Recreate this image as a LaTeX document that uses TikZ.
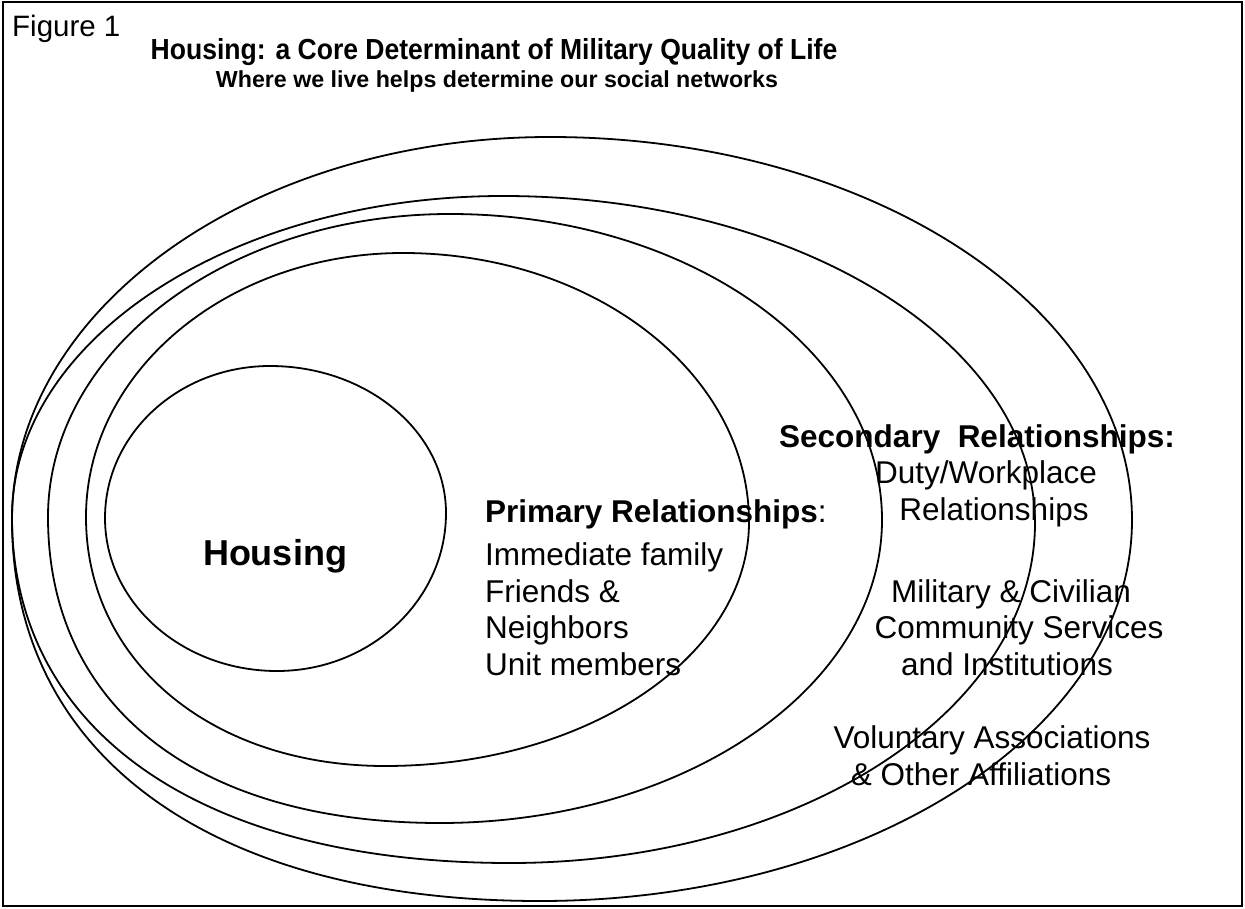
\documentclass[tikz,border=0pt]{standalone}
\usepackage{fontspec}
\setmainfont{Liberation Sans}[Ligatures=NoCommon]
\newcommand{\kTL}{0.5523}
\newcommand{\kTR}{0.5523}
\newcommand{\kBR}{0.5523}
\newcommand{\kBL}{0.5523}
% egg-shaped closed curve through left, top, right, bottom extreme points
\newcommand{\egg}[8]{%
  \draw[ring] (#1,#2) .. controls (#1,{#2-\kTL*(#2-#4)}) and ({#3-\kTL*(#3-#1)},#4) .. (#3,#4)
    .. controls ({#3+\kTR*(#5-#3)},#4) and (#5,{#6-\kTR*(#6-#4)}) .. (#5,#6)
    .. controls (#5,{#6+\kBR*(#8-#6)}) and ({#7+\kBR*(#5-#7)},#8) .. (#7,#8)
    .. controls ({#7-\kBL*(#7-#1)},#8) and (#1,{#2+\kBL*(#8-#2)}) .. (#1,#2);}
\begin{document}
\begin{tikzpicture}[x=1pt,y=-1pt,
  ring/.style={line width=1.8pt,line cap=round,line join=round},
  frame/.style={line width=1.8pt},
  body/.style={inner sep=0pt,font=\fontsize{31.5}{36}\selectfont},
  bodyb/.style={inner sep=0pt,font=\fontsize{31.5}{36}\selectfont\bfseries},
  titletext/.style={inner sep=0pt,font=\fontsize{29}{32}\selectfont\bfseries},
  subtext/.style={inner sep=0pt,font=\fontsize{23.2}{26}\selectfont\bfseries},
  figlabel/.style={inner sep=0pt,font=\fontsize{29.5}{32}\selectfont},
  core/.style={inner sep=0pt,font=\fontsize{36}{40}\selectfont\bfseries}]
\useasboundingbox (0,0) rectangle (1245,909);
\draw[frame] (3,2) rectangle (1242,906);

% rings
\egg{105}{518}{270}{366}{446}{513}{277}{671}
\renewcommand{\kBL}{0.58}
\egg{86}{517}{403}{253}{749}{522}{385}{766}
\renewcommand{\kBL}{0.62}
\egg{48}{517}{450}{214}{882}{520}{440}{823}
\egg{12}{517}{503}{196}{1035}{523}{510}{863}
\egg{12}{520}{550}{137}{1132}{520}{540}{901}

% texts
\node[figlabel,anchor=base west] (fig) at (12,37) {Figure 1};
\node[titletext,anchor=base] (title) at (494,60) {\scalebox{0.915}[1]{Housing: a Core Determinant of Military Quality of Life}};
\node[subtext,anchor=base] (sub) at (497,88) {Where we live helps determine our social networks};

\node[core,anchor=base] (housing) at (275,565) {Housing};

\node[body,anchor=base west] (p0) at (485,522) {\textbf{Primary Relationships}:};
\node[body,anchor=base west] (p1) at (485,565) {Immediate family};
\node[body,anchor=base west] (p2) at (485,602) {Friends \&};
\node[body,anchor=base west] (p3) at (485,638) {Neighbors};
\node[body,anchor=base west] (p4) at (485,675) {Unit members};

\node[bodyb,anchor=base] (s0) at (977,447) {Secondary~ Relationships:};
\node[body,anchor=base] (s1) at (986,483) {Duty/Workplace};
\node[body,anchor=base] (s2) at (994,520) {Relationships};
\node[body,anchor=base] (s3) at (1011,602) {Military \& Civilian};
\node[body,anchor=base] (s4) at (1019,638) {Community Services};
\node[body,anchor=base] (s5) at (1007,675) {and Institutions};
\node[body,anchor=base] (s6) at (992,748) {Voluntary Associations};
\node[body,anchor=base] (s7) at (981,785) {\& Other Affiliations};
\end{tikzpicture}
\end{document}
